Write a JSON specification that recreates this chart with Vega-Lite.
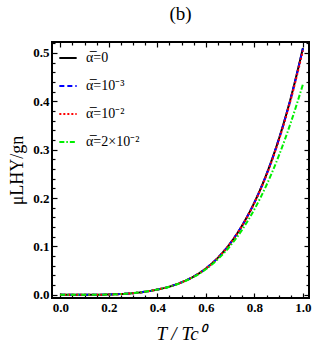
{
  "$schema": "https://vega.github.io/schema/vega-lite/v6.json",
  "width": 257,
  "height": 256,
  "autosize": {"type": "none"},
  "padding": {"left": 52, "top": 42, "right": 23, "bottom": 57},
  "title": {"text": "(b)", "font": "Liberation Serif", "fontSize": 19, "fontWeight": "normal", "color": "black", "offset": 13, "anchor": "middle"},
  "config": {
    "view": {"stroke": "black", "strokeWidth": 2},
    "axis": {"domain": false, "grid": false, "tickColor": "black", "labelFont": "Liberation Serif", "labelFontWeight": "bold", "labelFontSize": 13, "labelColor": "black", "titleFont": "Liberation Serif", "titleFontWeight": "normal", "titleColor": "black", "tickWidth": 1.2}
  },
  "data": {"values": [
    {"T": 0, "mu": 0, "s": "a0"}, {"T": 0.05, "mu": 0.000001, "s": "a0"}, {"T": 0.1, "mu": 0.00002, "s": "a0"}, {"T": 0.15, "mu": 0.00012, "s": "a0"}, {"T": 0.2, "mu": 0.0007, "s": "a0"}, {"T": 0.25, "mu": 0.0017, "s": "a0"}, {"T": 0.3, "mu": 0.0035, "s": "a0"}, {"T": 0.35, "mu": 0.0065, "s": "a0"}, {"T": 0.4, "mu": 0.011, "s": "a0"}, {"T": 0.45, "mu": 0.017, "s": "a0"}, {"T": 0.5, "mu": 0.026, "s": "a0"}, {"T": 0.55, "mu": 0.038, "s": "a0"}, {"T": 0.6, "mu": 0.0545, "s": "a0"}, {"T": 0.65, "mu": 0.077, "s": "a0"}, {"T": 0.7, "mu": 0.1062, "s": "a0"}, {"T": 0.75, "mu": 0.1438, "s": "a0"}, {"T": 0.8, "mu": 0.191, "s": "a0"}, {"T": 0.85, "mu": 0.2494, "s": "a0"}, {"T": 0.9, "mu": 0.3208, "s": "a0"}, {"T": 0.95, "mu": 0.407, "s": "a0"}, {"T": 1.0, "mu": 0.51, "s": "a0"},
    {"T": 0, "mu": 0, "s": "a3"}, {"T": 0.05, "mu": 0.000001, "s": "a3"}, {"T": 0.1, "mu": 0.00002, "s": "a3"}, {"T": 0.15, "mu": 0.00012, "s": "a3"}, {"T": 0.2, "mu": 0.0007, "s": "a3"}, {"T": 0.25, "mu": 0.0017, "s": "a3"}, {"T": 0.3, "mu": 0.0035, "s": "a3"}, {"T": 0.35, "mu": 0.0065, "s": "a3"}, {"T": 0.4, "mu": 0.011, "s": "a3"}, {"T": 0.45, "mu": 0.017, "s": "a3"}, {"T": 0.5, "mu": 0.026, "s": "a3"}, {"T": 0.55, "mu": 0.038, "s": "a3"}, {"T": 0.6, "mu": 0.0545, "s": "a3"}, {"T": 0.65, "mu": 0.077, "s": "a3"}, {"T": 0.7, "mu": 0.1061, "s": "a3"}, {"T": 0.75, "mu": 0.1436, "s": "a3"}, {"T": 0.8, "mu": 0.1907, "s": "a3"}, {"T": 0.85, "mu": 0.249, "s": "a3"}, {"T": 0.9, "mu": 0.3202, "s": "a3"}, {"T": 0.95, "mu": 0.4062, "s": "a3"}, {"T": 1.0, "mu": 0.509, "s": "a3"},
    {"T": 0, "mu": 0, "s": "a2"}, {"T": 0.05, "mu": 0.000001, "s": "a2"}, {"T": 0.1, "mu": 0.00002, "s": "a2"}, {"T": 0.15, "mu": 0.00012, "s": "a2"}, {"T": 0.2, "mu": 0.0007, "s": "a2"}, {"T": 0.25, "mu": 0.0017, "s": "a2"}, {"T": 0.3, "mu": 0.0035, "s": "a2"}, {"T": 0.35, "mu": 0.0065, "s": "a2"}, {"T": 0.4, "mu": 0.011, "s": "a2"}, {"T": 0.45, "mu": 0.017, "s": "a2"}, {"T": 0.5, "mu": 0.026, "s": "a2"}, {"T": 0.55, "mu": 0.0379, "s": "a2"}, {"T": 0.6, "mu": 0.0544, "s": "a2"}, {"T": 0.65, "mu": 0.0768, "s": "a2"}, {"T": 0.7, "mu": 0.1058, "s": "a2"}, {"T": 0.75, "mu": 0.1432, "s": "a2"}, {"T": 0.8, "mu": 0.19, "s": "a2"}, {"T": 0.85, "mu": 0.2478, "s": "a2"}, {"T": 0.9, "mu": 0.3185, "s": "a2"}, {"T": 0.95, "mu": 0.4035, "s": "a2"}, {"T": 1.0, "mu": 0.505, "s": "a2"},
    {"T": 0, "mu": 0, "s": "a22"}, {"T": 0.05, "mu": 0.000001, "s": "a22"}, {"T": 0.1, "mu": 0.00002, "s": "a22"}, {"T": 0.15, "mu": 0.00012, "s": "a22"}, {"T": 0.2, "mu": 0.0007, "s": "a22"}, {"T": 0.25, "mu": 0.0017, "s": "a22"}, {"T": 0.3, "mu": 0.0035, "s": "a22"}, {"T": 0.35, "mu": 0.0065, "s": "a22"}, {"T": 0.4, "mu": 0.0109, "s": "a22"}, {"T": 0.45, "mu": 0.0168, "s": "a22"}, {"T": 0.5, "mu": 0.0255, "s": "a22"}, {"T": 0.55, "mu": 0.0371, "s": "a22"}, {"T": 0.6, "mu": 0.0528, "s": "a22"}, {"T": 0.65, "mu": 0.0739, "s": "a22"}, {"T": 0.7, "mu": 0.1009, "s": "a22"}, {"T": 0.75, "mu": 0.1349, "s": "a22"}, {"T": 0.8, "mu": 0.1767, "s": "a22"}, {"T": 0.85, "mu": 0.227, "s": "a22"}, {"T": 0.9, "mu": 0.2865, "s": "a22"}, {"T": 0.95, "mu": 0.356, "s": "a22"}, {"T": 1.0, "mu": 0.435, "s": "a22"}
  ]},
  "layer": [
    {
      "mark": {"type": "line", "strokeWidth": 2, "interpolate": "monotone", "clip": true},
      "encoding": {
        "x": {"field": "T", "type": "quantitative", "scale": {"domain": [-0.034, 1.025], "nice": false, "zero": false},
          "axis": {"orient": "bottom", "values": [0, 0.05, 0.1, 0.15, 0.2, 0.25, 0.3, 0.35, 0.4, 0.45, 0.5, 0.55, 0.6, 0.65, 0.7, 0.75, 0.8, 0.85, 0.9, 0.95, 1.0],
            "labelExpr": "abs(datum.value*5 - round(datum.value*5)) < 0.001 ? format(datum.value, '.1f') : ''",
            "tickSize": {"condition": {"test": "abs(datum.value*5 - round(datum.value*5)) < 0.001", "value": -5}, "value": -3},
            "labelPadding": 8, "labelFlush": false, "labelOverlap": false,
            "title": "T / Tc⁰", "titleFontSize": 19, "titleFontStyle": "italic", "titlePadding": 8}},
        "y": {"field": "mu", "type": "quantitative", "scale": {"domain": [-0.0065, 0.5225], "nice": false, "zero": false},
          "axis": {"orient": "left", "values": [0, 0.02, 0.04, 0.06, 0.08, 0.1, 0.12, 0.14, 0.16, 0.18, 0.2, 0.22, 0.24, 0.26, 0.28, 0.3, 0.32, 0.34, 0.36, 0.38, 0.4, 0.42, 0.44, 0.46, 0.48, 0.5, 0.52],
            "labelExpr": "abs(datum.value*10 - round(datum.value*10)) < 0.001 ? format(datum.value, '.1f') : ''",
            "tickSize": {"condition": {"test": "abs(datum.value*10 - round(datum.value*10)) < 0.001", "value": -5}, "value": -3},
            "labelPadding": 8, "labelFlush": false, "labelOverlap": false,
            "title": "μLHY/gn", "titleFontSize": 18, "titlePadding": 6}},
        "color": {"field": "s", "type": "nominal",
          "scale": {"domain": ["a0", "a3", "a2", "a22"], "range": ["#000000", "#0000ff", "#ff0000", "#00ee00"]},
          "legend": {"orient": "none", "legendX": 6, "legendY": 6, "title": null, "symbolType": "stroke", "symbolSize": 300, "symbolStrokeWidth": 2, "rowPadding": 11,
            "labelFont": "Liberation Serif", "labelFontSize": 14, "labelColor": "black", "labelOffset": 8,
            "labelExpr": "datum.value == 'a0' ? 'α̅=0' : datum.value == 'a3' ? 'α̅=10⁻³' : datum.value == 'a2' ? 'α̅=10⁻²' : 'α̅=2×10⁻²'"}},
        "strokeDash": {"field": "s", "type": "nominal",
          "scale": {"domain": ["a0", "a3", "a2", "a22"], "range": [[1, 0], [5, 3], [2, 2], [5, 2, 1.5, 2]]},
          "legend": null}
      }
    },
    {
      "mark": {"type": "point", "opacity": 0},
      "encoding": {
        "x": {"field": "T", "type": "quantitative",
          "axis": {"orient": "top", "values": [0, 0.05, 0.1, 0.15, 0.2, 0.25, 0.3, 0.35, 0.4, 0.45, 0.5, 0.55, 0.6, 0.65, 0.7, 0.75, 0.8, 0.85, 0.9, 0.95, 1.0], "labels": false, "title": null,
            "tickSize": {"condition": {"test": "abs(datum.value*5 - round(datum.value*5)) < 0.001", "value": -5}, "value": -3}}},
        "y": {"field": "mu", "type": "quantitative",
          "axis": {"orient": "right", "values": [0, 0.02, 0.04, 0.06, 0.08, 0.1, 0.12, 0.14, 0.16, 0.18, 0.2, 0.22, 0.24, 0.26, 0.28, 0.3, 0.32, 0.34, 0.36, 0.38, 0.4, 0.42, 0.44, 0.46, 0.48, 0.5, 0.52], "labels": false, "title": null,
            "tickSize": {"condition": {"test": "abs(datum.value*10 - round(datum.value*10)) < 0.001", "value": -5}, "value": -3}}}
      }
    }
  ],
  "resolve": {"axis": {"x": "independent", "y": "independent"}}
}
